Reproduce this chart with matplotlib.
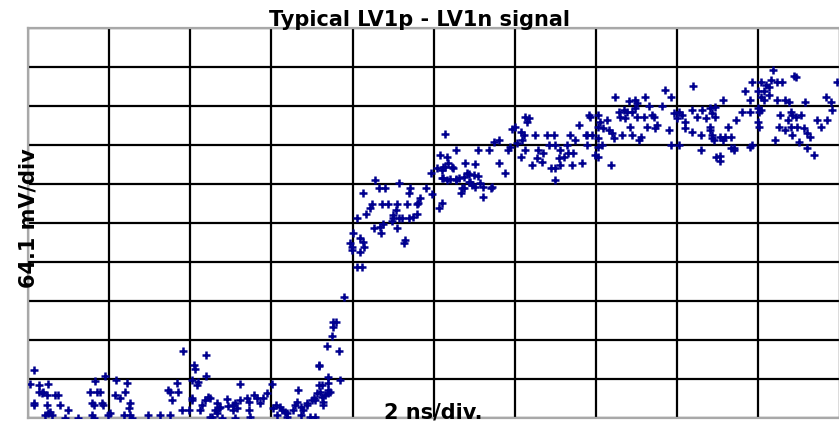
import numpy as np
import matplotlib
matplotlib.use('Agg')
import matplotlib.pyplot as plt

# scope trace in divisions (2 ns/div, 64.1 mV/div)
# --- flat part before the edge ---
base_t = [1.91, 0.08, 0.95, 0.02, 0.13, 0.25, 0.13, 0.19, 0.23, 0.33,
          0.37, 0.82, 0.76, 0.85, 0.89, 0.79, 0.91, 0.08, 0.23, 0.49,
          0.27, 0.29, 0.21, 0.46, 0.62, 0.79, 0.81, 0.99, 1.09, 1.22,
          1.20, 1.07, 1.13, 1.26, 1.24, 1.18, 1.28, 1.48, 1.63, 1.75,
          1.83, 1.75, 1.85, 1.77, 1.90, 1.98, 2.19, 2.04, 2.06, 2.19,
          2.10, 2.08, 2.61, 3.01, 2.22, 2.18, 2.24, 2.14, 2.12, 2.02,
          2.33, 2.35, 2.31, 2.45, 2.47, 2.55, 2.57, 2.53, 2.61, 2.72,
          2.78, 2.82, 2.72, 2.90, 2.94, 2.27, 2.39, 2.55, 3.05, 3.11,
          3.13, 3.17, 3.07, 3.19, 3.33, 3.31, 3.27, 3.39, 3.37, 3.44,
          3.50, 3.54, 3.64, 3.58, 3.60, 3.58, 3.70, 3.70, 3.72, 3.85,
          3.68, 3.83, 3.74, 3.52, 3.62, 3.64, 3.70, 0.17, 0.07, 0.25,
          0.39, 0.81, 0.93, 1.01, 1.26, 1.73, 2.02, 2.02, 2.37, 2.33,
          2.53, 2.70, 2.86, 2.24, 2.74, 3.02, 3.19, 3.29, 3.37, 3.44,
          3.56, 3.66, 3.70, 3.62, 3.48, 3.54]
base_v = [1.73, 1.23, 1.08, 0.87, 0.85, 0.87, 0.67, 0.67, 0.59, 0.59,
          0.59, 0.96, 0.67, 0.67, 0.67, 0.38, 0.38, 0.38, 0.33, 0.21,
          0.16, 0.08, 0.08, 0.00, 0.01, 0.08, 0.00, 0.08, 0.97, 0.89,
          0.67, 0.59, 0.51, 0.38, 0.25, 0.08, 0.00, 0.08, 0.08, 0.08,
          0.89, 0.67, 0.67, 0.46, 0.21, 0.21, 1.62, 1.36, 1.25, 1.08,
          0.93, 0.85, 0.86, 0.86, 0.55, 0.46, 0.51, 0.33, 0.21, 0.46,
          0.38, 0.25, 0.21, 0.48, 0.31, 0.38, 0.25, 0.21, 0.46, 0.42,
          0.59, 0.51, 0.21, 0.51, 0.63, 0.02, 0.00, 0.00, 0.33, 0.29,
          0.21, 0.16, 0.08, 0.03, 0.72, 0.42, 0.21, 0.21, 0.08, 0.33,
          0.46, 0.46, 0.42, 0.85, 0.67, 1.36, 1.06, 0.89, 0.67, 0.97,
          1.85, 1.73, 2.10, 0.51, 0.55, 0.33, 0.63, 0.63, 0.33, 0.12,
          0.33, 0.33, 0.33, 0.12, 0.08, 0.72, 0.97, 0.51, 0.29, 0.12,
          0.33, 0.51, 0.38, 0.03, 0.03, 0.25, 0.12, 0.33, 0.29, 0.38,
          0.63, 0.59, 0.72, 0.85, 0.03, 0.03]

# --- rising edge ---
edge_t = [3.89, 3.76, 3.76, 3.79, 3.59, 4.05, 4.11, 4.01, 3.97, 3.99,
          3.99, 4.09, 4.13, 4.14, 4.09, 4.06, 4.26, 4.34, 4.35, 4.38,
          4.48, 4.55, 4.65, 4.63, 4.16, 4.22, 4.24, 4.36, 4.44, 4.55,
          4.67, 4.79, 4.53, 4.50, 4.50, 4.57, 4.61, 4.69, 4.75, 4.79,
          4.81, 4.83, 4.13, 4.28, 4.32, 4.40, 4.57, 4.69, 4.71, 4.90,
          4.98, 5.06, 5.10, 4.96, 5.04, 5.12, 5.24, 5.10, 5.16, 5.27,
          5.37, 5.33, 5.41, 5.43]
edge_v = [3.11, 2.47, 2.34, 2.47, 1.33, 3.88, 3.88, 4.74, 4.48, 4.39,
          4.31, 4.62, 4.51, 4.39, 4.25, 5.12, 4.86, 4.91, 4.74, 4.97,
          5.05, 4.86, 4.56, 4.48, 5.22, 5.39, 5.48, 5.48, 5.48, 5.48,
          5.48, 5.48, 5.33, 5.21, 5.12, 5.12, 5.12, 5.12, 5.16, 5.22,
          5.51, 5.63, 5.76, 6.10, 5.89, 5.89, 6.02, 5.76, 5.89, 5.89,
          5.74, 5.38, 5.51, 6.27, 6.40, 6.44, 6.40, 6.15, 6.10, 6.10,
          5.89, 5.76, 6.27, 6.06]

# --- slow settling part ---
tail_t = [5.14, 5.28, 5.08, 5.16, 5.18, 5.22, 5.14, 5.10, 5.39, 5.51,
          5.80, 5.88, 5.12, 5.20, 5.27, 5.31, 5.37, 5.43, 5.49, 5.55,
          5.47, 5.45, 5.51, 5.57, 5.61, 5.70, 5.72, 5.35, 5.61, 5.55,
          5.68, 5.74, 5.80, 5.92, 5.94, 6.03, 5.96, 6.00, 6.07, 6.11,
          6.09, 6.15, 6.13, 6.17, 6.25, 6.07, 6.13, 6.21, 6.27, 6.29,
          6.35, 6.33, 6.40, 6.48, 6.42, 6.50, 6.56, 6.54, 6.44, 6.50,
          6.56, 6.60, 6.66, 6.72, 6.70, 6.83, 6.64, 6.68, 6.50, 6.74,
          6.79, 6.89, 6.91, 7.23, 7.40, 7.48, 7.51, 7.60, 7.85, 7.92,
          8.20, 7.65, 7.81, 6.93, 7.03, 7.05, 7.14, 7.28, 7.34, 7.38,
          7.44, 7.48, 7.51, 7.30, 7.36, 7.42, 7.59, 7.69, 7.71, 7.63,
          7.75, 7.73, 7.03, 7.09, 7.16, 7.20, 6.87, 6.95, 6.89, 7.03,
          7.07, 7.03, 7.22, 7.32, 7.44, 7.55, 7.53, 6.99, 7.03, 7.18,
          7.90, 7.96, 8.02, 8.06, 8.00, 8.10, 8.18, 8.25, 8.31, 8.35,
          8.43, 8.10, 8.18, 8.29, 8.41, 8.43, 7.92, 8.02, 8.29, 9.18,
          9.44, 8.92, 9.03, 9.15, 9.23, 9.29, 8.84, 8.99, 9.07, 9.09,
          9.13, 9.13, 9.03, 9.07, 8.57, 8.90, 9.23, 9.33, 9.38, 9.58,
          8.47, 8.41, 8.80, 8.90, 8.99, 9.01, 9.03, 8.99, 9.01, 8.72,
          8.47, 9.27, 9.40, 9.42, 9.46, 9.52, 9.36, 9.40, 9.48, 9.56,
          9.60, 9.25, 9.33, 9.42, 9.64, 9.21, 9.50, 9.60, 9.68, 9.72,
          9.77, 9.83, 9.85, 9.89, 9.91, 9.97, 8.41, 8.43, 8.45, 8.53,
          8.59, 8.66, 8.57, 8.62, 8.66, 8.70, 8.90, 8.48, 9.46, 8.53,
          8.53, 8.70, 8.92]
tail_v = [7.28, 6.87, 6.74, 6.70, 6.53, 6.44, 6.44, 6.36, 6.53, 6.51,
          6.53, 6.27, 6.15, 6.12, 6.12, 6.15, 6.19, 6.26, 6.23, 6.21,
          5.97, 6.06, 5.92, 6.02, 5.92, 5.89, 5.92, 5.89, 5.66, 6.87,
          6.87, 7.08, 7.13, 6.87, 6.96, 7.04, 7.40, 7.47, 7.34, 7.26,
          7.13, 7.60, 7.73, 7.68, 7.26, 6.70, 6.87, 6.49, 6.66, 6.87,
          6.79, 6.57, 7.26, 7.26, 7.00, 7.00, 6.87, 6.66, 6.40, 6.40,
          6.49, 6.70, 6.79, 6.79, 6.49, 6.53, 7.00, 7.26, 6.10, 7.13,
          7.51, 7.26, 7.77, 8.24, 8.13, 8.15, 8.07, 8.24, 8.41, 8.24,
          8.52, 8.01, 8.01, 7.73, 7.77, 7.60, 7.64, 7.85, 7.90, 7.85,
          7.85, 7.94, 7.73, 7.73, 7.68, 7.47, 7.73, 7.77, 7.73, 7.47,
          7.51, 7.43, 7.47, 7.43, 7.38, 7.30, 7.26, 7.26, 7.00, 7.17,
          7.00, 6.96, 7.17, 7.26, 7.26, 7.21, 7.13, 6.74, 6.70, 6.49,
          7.38, 7.81, 7.85, 7.77, 7.68, 7.60, 7.90, 7.73, 7.90, 7.68,
          7.81, 7.43, 7.34, 7.26, 7.38, 7.17, 7.00, 7.00, 6.87, 8.92,
          8.77, 8.62, 8.62, 8.67, 8.62, 8.62, 8.39, 8.39, 8.39, 8.54,
          8.49, 8.28, 8.24, 8.15, 8.15, 8.15, 8.15, 8.15, 8.11, 8.11,
          7.98, 7.94, 7.85, 7.85, 7.94, 7.85, 7.90, 7.60, 7.47, 7.64,
          7.73, 7.77, 7.85, 7.77, 7.73, 7.77, 7.64, 7.47, 7.47, 7.43,
          7.30, 7.47, 7.38, 7.26, 7.21, 7.13, 7.08, 6.92, 6.74, 7.64,
          7.47, 8.24, 7.64, 8.11, 7.90, 8.62, 7.47, 7.26, 7.13, 7.21,
          7.21, 7.21, 7.13, 7.47, 6.92, 6.92, 6.96, 6.70, 8.75, 6.72,
          6.58, 6.87, 7.00]

t = np.concatenate([base_t, edge_t, tail_t])
v = np.concatenate([base_v, edge_v, tail_v])

W, H = 839, 422
fig = plt.figure(figsize=(W / 100, H / 100), dpi=100)
fig.patch.set_facecolor('white')
ax = fig.add_axes([28 / W, 4 / H, 811.5 / W, 390 / H])

ax.plot(t, v, linestyle='none', marker='+', markersize=6, markeredgewidth=1.8,
        color='#00008f', zorder=3)

ax.set_xlim(0, 10)
ax.set_ylim(0, 10)
ax.set_xticks(np.arange(0, 11))
ax.set_yticks(np.arange(0, 11))
ax.tick_params(length=0, labelbottom=False, labelleft=False)
ax.grid(True, color='black', linewidth=1.6)
ax.set_axisbelow(True)
for s in ax.spines.values():
    s.set_color('#a8a8a8')
    s.set_linewidth(1.6)

fig.text(0.5, (H - 26) / H, 'Typical LV1p - LV1n signal', ha='center', va='baseline',
         fontsize=15, fontweight='bold', color='black')
fig.text(28 / W, (H - 218) / H, '64.1 mV/div', rotation=90, ha='center', va='center',
         fontsize=15, fontweight='bold', color='black', zorder=5)
fig.text(433 / W, 3 / H, '2 ns/div.', ha='center', va='baseline',
         fontsize=15, fontweight='bold', color='black', zorder=5)

fig.savefig('out.png', dpi=100, facecolor='white')
